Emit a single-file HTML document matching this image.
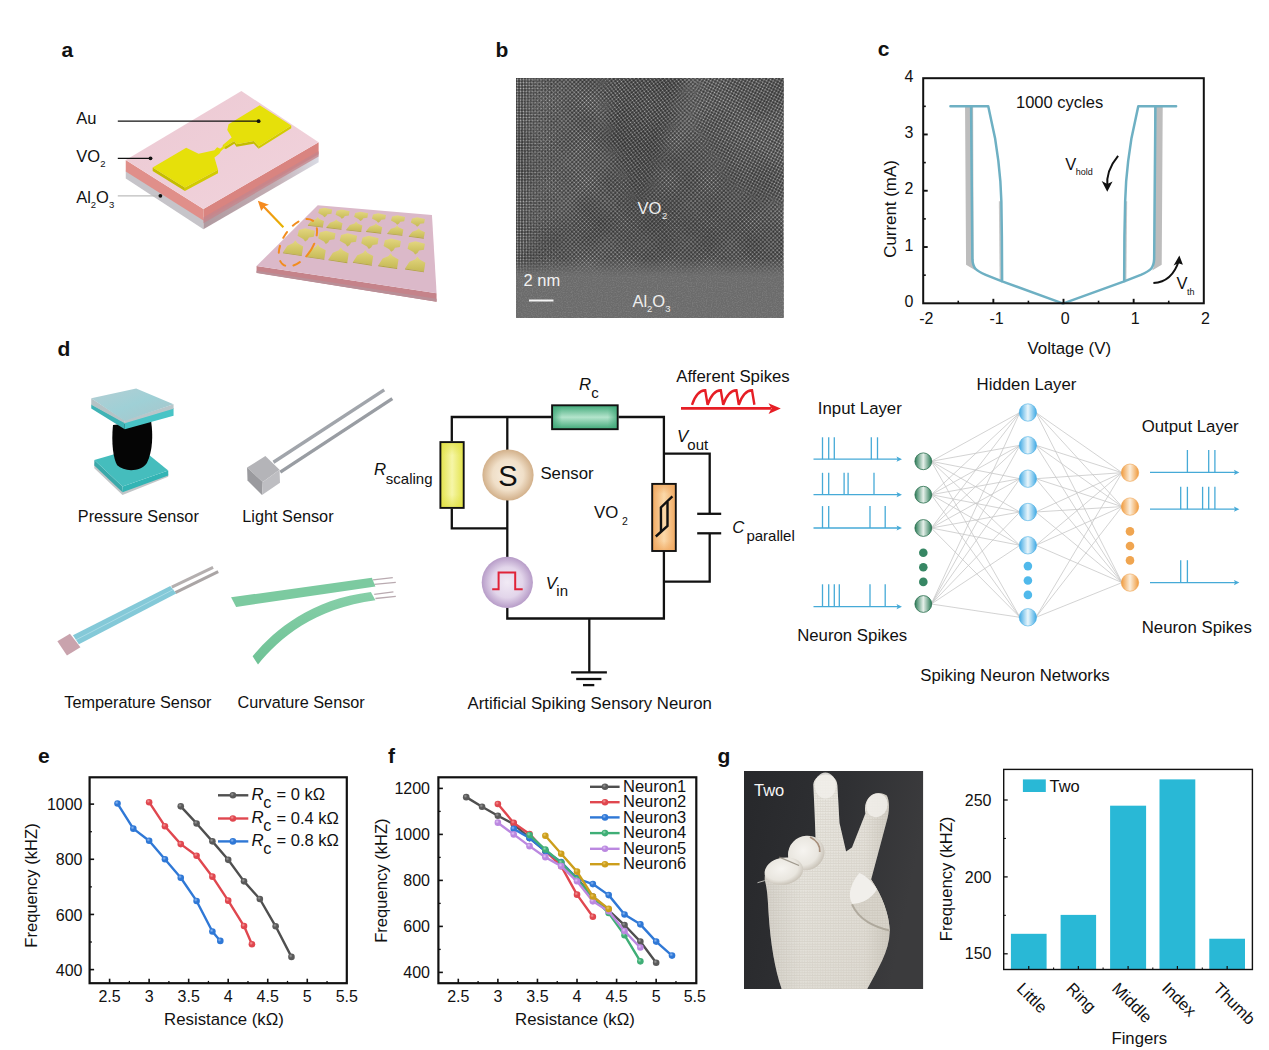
<!DOCTYPE html>
<html><head><meta charset="utf-8"><title>Figure</title>
<style>html,body{margin:0;padding:0;background:#fff;}svg{display:block;font-family:'Liberation Sans', sans-serif;}</style>
</head><body>
<svg width="1269" height="1050" viewBox="0 0 1269 1050">
<defs>
<radialGradient id="ball_k" cx="0.38" cy="0.35" r="0.65"><stop offset="0" stop-color="#9a9a9a"/><stop offset="0.45" stop-color="#5a5a5a"/><stop offset="1" stop-color="#5a5a5a"/></radialGradient>
<radialGradient id="ball_r" cx="0.38" cy="0.35" r="0.65"><stop offset="0" stop-color="#f49a9a"/><stop offset="0.45" stop-color="#e0474f"/><stop offset="1" stop-color="#e0474f"/></radialGradient>
<radialGradient id="ball_b" cx="0.38" cy="0.35" r="0.65"><stop offset="0" stop-color="#8db8f2"/><stop offset="0.45" stop-color="#2f78d6"/><stop offset="1" stop-color="#2f78d6"/></radialGradient>
<radialGradient id="ball_g" cx="0.38" cy="0.35" r="0.65"><stop offset="0" stop-color="#94dcb4"/><stop offset="0.45" stop-color="#3fae76"/><stop offset="1" stop-color="#3fae76"/></radialGradient>
<radialGradient id="ball_p" cx="0.38" cy="0.35" r="0.65"><stop offset="0" stop-color="#e2c6f6"/><stop offset="0.45" stop-color="#bb88e0"/><stop offset="1" stop-color="#bb88e0"/></radialGradient>
<radialGradient id="ball_y" cx="0.38" cy="0.35" r="0.65"><stop offset="0" stop-color="#ecca62"/><stop offset="0.45" stop-color="#cc9e1c"/><stop offset="1" stop-color="#cc9e1c"/></radialGradient>
<linearGradient id="a_pink" x1="0" y1="0" x2="1" y2="1"><stop offset="0" stop-color="#ecc9d3"/><stop offset="1" stop-color="#f1d3dc"/></linearGradient>
<linearGradient id="a_rface" x1="0" y1="0" x2="1" y2="0"><stop offset="0" stop-color="#b09aa0"/><stop offset="0.6" stop-color="#c2adb3"/><stop offset="1" stop-color="#d9dbe4"/></linearGradient>
<linearGradient id="a_arrow" x1="1" y1="1" x2="0" y2="0"><stop offset="0" stop-color="#e6b400"/><stop offset="1" stop-color="#f58a1f"/></linearGradient>
<linearGradient id="a_pad" x1="0" y1="0" x2="0" y2="1"><stop offset="0" stop-color="#e3d680"/><stop offset="1" stop-color="#c6ba55"/></linearGradient>
<pattern id="tem1" width="2.9" height="2.9" patternUnits="userSpaceOnUse" patternTransform="rotate(45)"><rect width="2.9" height="2.9" fill="#353535"/><circle cx="1.45" cy="1.45" r="0.97" fill="#bcbcbc"/></pattern>
<pattern id="tem1b" width="2.9" height="2.9" patternUnits="userSpaceOnUse"><rect width="2.9" height="2.9" fill="#343434"/><circle cx="1.45" cy="1.45" r="0.9" fill="#b8b8b8"/></pattern>
<pattern id="tem2" width="2.0" height="1.9" patternUnits="userSpaceOnUse"><rect width="2.0" height="1.9" fill="#555555"/><circle cx="1" cy="0.95" r="0.62" fill="#9a9a9a"/></pattern>
<linearGradient id="temtrans" x1="0" y1="0" x2="0" y2="1"><stop offset="0" stop-color="#fff" stop-opacity="0"/><stop offset="0.3" stop-color="#fff" stop-opacity="1"/><stop offset="1" stop-color="#fff" stop-opacity="1"/></linearGradient>
<mask id="temmask" maskUnits="userSpaceOnUse" x="516" y="258" width="268" height="60"><rect x="516" y="258" width="268" height="60" fill="url(#temtrans)"/></mask>
<pattern id="tem1c" width="2.9" height="2.9" patternUnits="userSpaceOnUse" patternTransform="rotate(28)"><rect width="2.9" height="2.9" fill="#343434"/><circle cx="1.45" cy="1.45" r="0.92" fill="#b6b6b6"/></pattern>
<pattern id="tem1d" width="3.0" height="2.7" patternUnits="userSpaceOnUse" patternTransform="rotate(-38)"><rect width="3.0" height="2.7" fill="#2e2e2e"/><circle cx="1.5" cy="1.35" r="0.9" fill="#acacac"/></pattern>
<filter id="temblur" x="-0.2" y="-0.2" width="1.4" height="1.4"><feGaussianBlur stdDeviation="7"/></filter>
<mask id="temmaskR" maskUnits="userSpaceOnUse" x="516" y="78" width="268" height="240"><polygon points="700,70 800,70 800,210 735,190 690,120" fill="#fff" filter="url(#temblur)"/></mask>
<mask id="temmaskC" maskUnits="userSpaceOnUse" x="516" y="78" width="268" height="240"><polygon points="600,70 690,70 665,150 640,215 610,150" fill="#fff" filter="url(#temblur)"/></mask>
<filter id="temnoise" x="0" y="0" width="1" height="1"><feTurbulence type="fractalNoise" baseFrequency="0.018" numOctaves="2" seed="7"/><feColorMatrix type="matrix" values="0 0 0 0 0  0 0 0 0 0  0 0 0 0 0  0.32 0 0 0 -0.12"/></filter>
<filter id="temgrain" x="0" y="0" width="1" height="1"><feTurbulence type="fractalNoise" baseFrequency="0.8" numOctaves="1" seed="11"/><feColorMatrix type="matrix" values="0 0 0 0 1  0 0 0 0 1  0 0 0 0 1  0.9 0 0 0 -0.38"/></filter>
<radialGradient id="temdark" cx="0.55" cy="0.6" r="0.55"><stop offset="0" stop-color="#2c2c2c" stop-opacity="0.38"/><stop offset="1" stop-color="#2c2c2c" stop-opacity="0"/></radialGradient>
<linearGradient id="temleft" x1="0" y1="0" x2="1" y2="0"><stop offset="0" stop-color="#fff" stop-opacity="1"/><stop offset="1" stop-color="#fff" stop-opacity="0"/></linearGradient>
<mask id="temmaskL" maskUnits="userSpaceOnUse" x="516" y="78" width="60" height="200"><rect x="516" y="78" width="60" height="200" fill="url(#temleft)"/></mask>
<linearGradient id="d_topplate" x1="0" y1="0" x2="1" y2="1"><stop offset="0" stop-color="#b4ced3"/><stop offset="0.5" stop-color="#9fd0d6"/><stop offset="1" stop-color="#a9c4c9"/></linearGradient>
<linearGradient id="d_cyl" x1="0" y1="0" x2="1" y2="0"><stop offset="0" stop-color="#0a0a0a"/><stop offset="0.5" stop-color="#000"/><stop offset="1" stop-color="#0a0a0a"/></linearGradient>
<linearGradient id="d_rs" x1="0" y1="0" x2="1" y2="0"><stop offset="0" stop-color="#e3e34a"/><stop offset="0.5" stop-color="#f6f6a8"/><stop offset="1" stop-color="#e3e34a"/></linearGradient>
<linearGradient id="d_rs2" x1="0" y1="0" x2="0" y2="1"><stop offset="0" stop-color="#e0e040" stop-opacity="0.7"/><stop offset="0.2" stop-color="#e0e040" stop-opacity="0"/><stop offset="0.8" stop-color="#e0e040" stop-opacity="0"/><stop offset="1" stop-color="#e0e040" stop-opacity="0.7"/></linearGradient>
<linearGradient id="d_rc" x1="0" y1="0" x2="0" y2="1"><stop offset="0" stop-color="#3fa878"/><stop offset="0.5" stop-color="#b4e4cc"/><stop offset="1" stop-color="#3fa878"/></linearGradient>
<linearGradient id="d_rc2" x1="0" y1="0" x2="1" y2="0"><stop offset="0" stop-color="#3fa878" stop-opacity="0.8"/><stop offset="0.15" stop-color="#3fa878" stop-opacity="0"/><stop offset="0.85" stop-color="#3fa878" stop-opacity="0"/><stop offset="1" stop-color="#3fa878" stop-opacity="0.8"/></linearGradient>
<linearGradient id="d_vo" x1="0" y1="0" x2="1" y2="0"><stop offset="0" stop-color="#f0a860"/><stop offset="0.5" stop-color="#fbd9aa"/><stop offset="1" stop-color="#f0a860"/></linearGradient>
<linearGradient id="d_vo2" x1="0" y1="0" x2="0" y2="1"><stop offset="0" stop-color="#f0a860" stop-opacity="0.8"/><stop offset="0.15" stop-color="#f0a860" stop-opacity="0"/><stop offset="0.85" stop-color="#f0a860" stop-opacity="0"/><stop offset="1" stop-color="#f0a860" stop-opacity="0.8"/></linearGradient>
<radialGradient id="d_sens" cx="0.5" cy="0.5" r="0.5"><stop offset="0" stop-color="#f8efe2"/><stop offset="0.6" stop-color="#f0dfc8"/><stop offset="1" stop-color="#d2b08a"/></radialGradient>
<radialGradient id="d_vin" cx="0.5" cy="0.5" r="0.5"><stop offset="0" stop-color="#f1eaf5"/><stop offset="0.6" stop-color="#e2d5ea"/><stop offset="1" stop-color="#b79cc8"/></radialGradient>
<linearGradient id="d_green" x1="0" y1="0" x2="0" y2="1"><stop offset="0" stop-color="#86cfa8"/><stop offset="1" stop-color="#6fc296"/></linearGradient>
<linearGradient id="n_g" x1="0" y1="0" x2="1" y2="0"><stop offset="0" stop-color="#2a7a56"/><stop offset="0.5" stop-color="#e6f0ea"/><stop offset="1" stop-color="#2a7a56"/></linearGradient>
<linearGradient id="n_b" x1="0" y1="0" x2="1" y2="0"><stop offset="0" stop-color="#3fa9e4"/><stop offset="0.5" stop-color="#eaf6fb"/><stop offset="1" stop-color="#3fa9e4"/></linearGradient>
<linearGradient id="n_o" x1="0" y1="0" x2="1" y2="0"><stop offset="0" stop-color="#f09a3c"/><stop offset="0.5" stop-color="#fbeedc"/><stop offset="1" stop-color="#f09a3c"/></linearGradient>
<linearGradient id="gl_bg" x1="0" y1="0" x2="1" y2="0.25"><stop offset="0" stop-color="#27282b"/><stop offset="0.55" stop-color="#2f3033"/><stop offset="1" stop-color="#3b3b3d"/></linearGradient>
<linearGradient id="gl_palm" x1="0" y1="0" x2="1" y2="0"><stop offset="0" stop-color="#d9d6cf"/><stop offset="0.3" stop-color="#ebe9e3"/><stop offset="0.8" stop-color="#e7e4dd"/><stop offset="1" stop-color="#d2cec5"/></linearGradient>
<radialGradient id="gl_kn" cx="0.45" cy="0.4" r="0.6"><stop offset="0" stop-color="#f6f4f0"/><stop offset="0.7" stop-color="#e9e6df"/><stop offset="1" stop-color="#c9c3b8"/></radialGradient>
<pattern id="gl_knit" width="2.6" height="2.6" patternUnits="userSpaceOnUse"><rect width="2.6" height="2.6" fill="none"/><rect x="0" y="0" width="2.6" height="0.9" fill="#a39c8d" opacity="0.2"/><circle cx="1.3" cy="1.9" r="0.5" fill="#aaa394" opacity="0.28"/></pattern>
<linearGradient id="gl_shade" x1="0" y1="0" x2="0" y2="1"><stop offset="0" stop-color="#bdb7aa" stop-opacity="0"/><stop offset="1" stop-color="#bdb7aa" stop-opacity="0.22"/></linearGradient>
<clipPath id="gl_clip"><rect x="744" y="771" width="179.3" height="218"/></clipPath>
</defs>
<rect width="1269" height="1050" fill="#ffffff"/>
<text x="61.50" y="56.90" font-size="21" text-anchor="start" font-weight="bold" font-style="normal" fill="#111" >a</text><text x="495.50" y="56.90" font-size="21" text-anchor="start" font-weight="bold" font-style="normal" fill="#111" >b</text><text x="877.80" y="56.10" font-size="21" text-anchor="start" font-weight="bold" font-style="normal" fill="#111" >c</text><text x="57.50" y="355.60" font-size="21" text-anchor="start" font-weight="bold" font-style="normal" fill="#111" >d</text><text x="38.00" y="762.80" font-size="21" text-anchor="start" font-weight="bold" font-style="normal" fill="#111" >e</text><text x="388.00" y="762.80" font-size="21" text-anchor="start" font-weight="bold" font-style="normal" fill="#111" >f</text><text x="717.50" y="762.80" font-size="21" text-anchor="start" font-weight="bold" font-style="normal" fill="#111" >g</text>
<polygon points="965.05,106.14 973.12,106.14 973.63,267.26 975.64,270.54 966.06,264.74" fill="#bdbdbd" stroke="none" stroke-width="1" />
<polygon points="1154.16,106.14 1162.73,106.14 1161.72,264.74 1152.14,270.54 1153.66,267.26" fill="#bdbdbd" stroke="none" stroke-width="1" />
<polygon points="998.84,201.20 1000.86,201.20 1002.12,281.89 999.60,279.36" fill="#c9c9c9" stroke="none" stroke-width="1" />
<polygon points="1125.16,201.20 1127.18,201.20 1126.42,279.36 1123.90,281.89" fill="#c9c9c9" stroke="none" stroke-width="1" />
<path d="M950.43,106.14 L988.25,106.14 L991.28,120.51 L995.06,138.16 L998.34,160.86 L1000.35,181.03 L1001.36,201.20 L1001.87,236.50 L1002.12,281.38 L1062.63,303.32" fill="none" stroke="#6eb0c3" stroke-width="2.5" stroke-linejoin="round" stroke-linecap="round"/>
<path d="M971.10,106.14 L972.37,259.19 C972.87,268.02 975.64,270.54 985.73,274.83 L1002.12,281.38" fill="none" stroke="#6eb0c3" stroke-width="2.5" stroke-linejoin="round"/>
<path d="M1176.10,106.14 L1138.28,106.14 L1135.25,120.51 L1131.47,138.16 L1128.19,160.86 L1126.17,181.03 L1125.16,201.20 L1124.41,236.50 L1124.16,281.38 L1063.39,303.32" fill="none" stroke="#6eb0c3" stroke-width="2.5" stroke-linejoin="round" stroke-linecap="round"/>
<path d="M1155.42,106.14 L1154.16,259.19 C1153.66,268.02 1150.88,270.54 1140.80,274.83 L1124.16,281.38" fill="none" stroke="#6eb0c3" stroke-width="2.5" stroke-linejoin="round"/>
<rect x="923.2" y="78.2" width="280.60" height="225.10" fill="none" stroke="#111" stroke-width="2.0"/>
<line x1="993.35" y1="303.30" x2="993.35" y2="298.80" stroke="#111" stroke-width="1.9" />
<line x1="1063.50" y1="303.30" x2="1063.50" y2="298.80" stroke="#111" stroke-width="1.9" />
<line x1="1133.65" y1="303.30" x2="1133.65" y2="298.80" stroke="#111" stroke-width="1.9" />
<line x1="958.27" y1="303.30" x2="958.27" y2="300.70" stroke="#111" stroke-width="1.6" />
<line x1="1028.42" y1="303.30" x2="1028.42" y2="300.70" stroke="#111" stroke-width="1.6" />
<line x1="1098.58" y1="303.30" x2="1098.58" y2="300.70" stroke="#111" stroke-width="1.6" />
<line x1="1168.72" y1="303.30" x2="1168.72" y2="300.70" stroke="#111" stroke-width="1.6" />
<line x1="923.20" y1="247.02" x2="927.70" y2="247.02" stroke="#111" stroke-width="1.9" />
<line x1="923.20" y1="190.74" x2="927.70" y2="190.74" stroke="#111" stroke-width="1.9" />
<line x1="923.20" y1="134.46" x2="927.70" y2="134.46" stroke="#111" stroke-width="1.9" />
<line x1="923.20" y1="275.16" x2="925.80" y2="275.16" stroke="#111" stroke-width="1.6" />
<line x1="923.20" y1="218.88" x2="925.80" y2="218.88" stroke="#111" stroke-width="1.6" />
<line x1="923.20" y1="162.60" x2="925.80" y2="162.60" stroke="#111" stroke-width="1.6" />
<line x1="923.20" y1="106.32" x2="925.80" y2="106.32" stroke="#111" stroke-width="1.6" />
<text x="913.50" y="306.90" font-size="16" text-anchor="end" font-weight="normal" font-style="normal" fill="#111" >0</text>
<text x="913.50" y="250.62" font-size="16" text-anchor="end" font-weight="normal" font-style="normal" fill="#111" >1</text>
<text x="913.50" y="194.34" font-size="16" text-anchor="end" font-weight="normal" font-style="normal" fill="#111" >2</text>
<text x="913.50" y="138.06" font-size="16" text-anchor="end" font-weight="normal" font-style="normal" fill="#111" >3</text>
<text x="913.50" y="81.78" font-size="16" text-anchor="end" font-weight="normal" font-style="normal" fill="#111" >4</text>
<text x="926.40" y="324.20" font-size="16" text-anchor="middle" font-weight="normal" font-style="normal" fill="#111" >-2</text>
<text x="996.55" y="324.20" font-size="16" text-anchor="middle" font-weight="normal" font-style="normal" fill="#111" >-1</text>
<text x="1065.10" y="324.20" font-size="16" text-anchor="middle" font-weight="normal" font-style="normal" fill="#111" >0</text>
<text x="1135.25" y="324.20" font-size="16" text-anchor="middle" font-weight="normal" font-style="normal" fill="#111" >1</text>
<text x="1205.40" y="324.20" font-size="16" text-anchor="middle" font-weight="normal" font-style="normal" fill="#111" >2</text>
<text x="1069.30" y="354.20" font-size="16.9" text-anchor="middle" font-weight="normal" font-style="normal" fill="#111" >Voltage (V)</text>
<text transform="translate(895.5,209) rotate(-90)" font-size="16.9" text-anchor="middle" fill="#111">Current (mA)</text>
<text x="1016.00" y="108.00" font-size="16.5" text-anchor="start" font-weight="normal" font-style="normal" fill="#111" >1000 cycles</text>
<text x="1065.15" y="170.19" font-size="16.5" text-anchor="start" font-weight="normal" font-style="normal" fill="#111" >V</text><text x="1075.65" y="175.19" font-size="9" text-anchor="start" font-weight="normal" font-style="normal" fill="#111" >hold</text>
<text x="1176.60" y="289.45" font-size="16.5" text-anchor="start" font-weight="normal" font-style="normal" fill="#111" >V</text><text x="1187.10" y="295.45" font-size="9" text-anchor="start" font-weight="normal" font-style="normal" fill="#111" >th</text>
<path d="M1118.1,155.8 Q1105.5,170.9 1107.3,187.3" fill="none" stroke="#111" stroke-width="2"/>
<polygon points="1101.71,181.03 1107.26,184.05 1112.56,181.53 1107.26,191.87" fill="#111" stroke="none" stroke-width="1" />
<path d="M1153.4,283.1 Q1172.3,281.9 1178.9,260.5" fill="none" stroke="#111" stroke-width="2"/>
<polygon points="1173.58,265.50 1178.37,263.23 1182.90,264.74 1179.37,255.41" fill="#111" stroke="none" stroke-width="1" />
<polyline points="180.76,806.33 196.58,823.43 212.39,841.35 228.20,859.83 244.02,881.34 259.83,899.00 275.65,926.30 291.46,956.91" fill="none" stroke="#4f4f4f" stroke-width="2.4" stroke-linejoin="round"/><circle cx="180.76" cy="806.33" r="3.3" fill="url(#ball_k)"/><circle cx="196.58" cy="823.43" r="3.3" fill="url(#ball_k)"/><circle cx="212.39" cy="841.35" r="3.3" fill="url(#ball_k)"/><circle cx="228.20" cy="859.83" r="3.3" fill="url(#ball_k)"/><circle cx="244.02" cy="881.34" r="3.3" fill="url(#ball_k)"/><circle cx="259.83" cy="899.00" r="3.3" fill="url(#ball_k)"/><circle cx="275.65" cy="926.30" r="3.3" fill="url(#ball_k)"/><circle cx="291.46" cy="956.91" r="3.3" fill="url(#ball_k)"/>
<polyline points="149.13,802.19 164.95,826.18 180.76,844.11 196.58,855.69 212.39,876.66 228.20,900.65 244.02,926.02 251.93,944.23" fill="none" stroke="#e0474f" stroke-width="2.4" stroke-linejoin="round"/><circle cx="149.13" cy="802.19" r="3.3" fill="url(#ball_r)"/><circle cx="164.95" cy="826.18" r="3.3" fill="url(#ball_r)"/><circle cx="180.76" cy="844.11" r="3.3" fill="url(#ball_r)"/><circle cx="196.58" cy="855.69" r="3.3" fill="url(#ball_r)"/><circle cx="212.39" cy="876.66" r="3.3" fill="url(#ball_r)"/><circle cx="228.20" cy="900.65" r="3.3" fill="url(#ball_r)"/><circle cx="244.02" cy="926.02" r="3.3" fill="url(#ball_r)"/><circle cx="251.93" cy="944.23" r="3.3" fill="url(#ball_r)"/>
<polyline points="117.51,803.57 133.32,828.67 149.13,840.80 164.95,859.28 180.76,877.76 196.58,900.93 212.39,931.54 220.30,940.92" fill="none" stroke="#2f78d6" stroke-width="2.4" stroke-linejoin="round"/><circle cx="117.51" cy="803.57" r="3.3" fill="url(#ball_b)"/><circle cx="133.32" cy="828.67" r="3.3" fill="url(#ball_b)"/><circle cx="149.13" cy="840.80" r="3.3" fill="url(#ball_b)"/><circle cx="164.95" cy="859.28" r="3.3" fill="url(#ball_b)"/><circle cx="180.76" cy="877.76" r="3.3" fill="url(#ball_b)"/><circle cx="196.58" cy="900.93" r="3.3" fill="url(#ball_b)"/><circle cx="212.39" cy="931.54" r="3.3" fill="url(#ball_b)"/><circle cx="220.30" cy="940.92" r="3.3" fill="url(#ball_b)"/>
<rect x="89.6" y="777.3" width="257.20" height="205.90" fill="none" stroke="#111" stroke-width="2.2"/>
<line x1="109.60" y1="983.20" x2="109.60" y2="978.70" stroke="#111" stroke-width="1.6" />
<text x="109.60" y="1001.50" font-size="16" text-anchor="middle" font-weight="normal" font-style="normal" fill="#111" >2.5</text>
<line x1="149.13" y1="983.20" x2="149.13" y2="978.70" stroke="#111" stroke-width="1.6" />
<text x="149.13" y="1001.50" font-size="16" text-anchor="middle" font-weight="normal" font-style="normal" fill="#111" >3</text>
<line x1="188.67" y1="983.20" x2="188.67" y2="978.70" stroke="#111" stroke-width="1.6" />
<text x="188.67" y="1001.50" font-size="16" text-anchor="middle" font-weight="normal" font-style="normal" fill="#111" >3.5</text>
<line x1="228.20" y1="983.20" x2="228.20" y2="978.70" stroke="#111" stroke-width="1.6" />
<text x="228.20" y="1001.50" font-size="16" text-anchor="middle" font-weight="normal" font-style="normal" fill="#111" >4</text>
<line x1="267.74" y1="983.20" x2="267.74" y2="978.70" stroke="#111" stroke-width="1.6" />
<text x="267.74" y="1001.50" font-size="16" text-anchor="middle" font-weight="normal" font-style="normal" fill="#111" >4.5</text>
<line x1="307.27" y1="983.20" x2="307.27" y2="978.70" stroke="#111" stroke-width="1.6" />
<text x="307.27" y="1001.50" font-size="16" text-anchor="middle" font-weight="normal" font-style="normal" fill="#111" >5</text>
<text x="346.81" y="1001.50" font-size="16" text-anchor="middle" font-weight="normal" font-style="normal" fill="#111" >5.5</text>
<line x1="129.37" y1="983.20" x2="129.37" y2="980.90" stroke="#111" stroke-width="1.3" />
<line x1="168.90" y1="983.20" x2="168.90" y2="980.90" stroke="#111" stroke-width="1.3" />
<line x1="208.44" y1="983.20" x2="208.44" y2="980.90" stroke="#111" stroke-width="1.3" />
<line x1="247.97" y1="983.20" x2="247.97" y2="980.90" stroke="#111" stroke-width="1.3" />
<line x1="287.51" y1="983.20" x2="287.51" y2="980.90" stroke="#111" stroke-width="1.3" />
<line x1="327.04" y1="983.20" x2="327.04" y2="980.90" stroke="#111" stroke-width="1.3" />
<line x1="89.60" y1="969.60" x2="94.10" y2="969.60" stroke="#111" stroke-width="1.6" />
<text x="82.50" y="975.70" font-size="16" text-anchor="end" font-weight="normal" font-style="normal" fill="#111" >400</text>
<line x1="89.60" y1="914.44" x2="94.10" y2="914.44" stroke="#111" stroke-width="1.6" />
<text x="82.50" y="920.54" font-size="16" text-anchor="end" font-weight="normal" font-style="normal" fill="#111" >600</text>
<line x1="89.60" y1="859.28" x2="94.10" y2="859.28" stroke="#111" stroke-width="1.6" />
<text x="82.50" y="865.38" font-size="16" text-anchor="end" font-weight="normal" font-style="normal" fill="#111" >800</text>
<line x1="89.60" y1="804.12" x2="94.10" y2="804.12" stroke="#111" stroke-width="1.6" />
<text x="82.50" y="810.22" font-size="16" text-anchor="end" font-weight="normal" font-style="normal" fill="#111" >1000</text>
<line x1="89.60" y1="942.02" x2="91.90" y2="942.02" stroke="#111" stroke-width="1.3" />
<line x1="89.60" y1="886.86" x2="91.90" y2="886.86" stroke="#111" stroke-width="1.3" />
<line x1="89.60" y1="831.70" x2="91.90" y2="831.70" stroke="#111" stroke-width="1.3" />
<text x="224.00" y="1024.90" font-size="16.8" text-anchor="middle" font-weight="normal" font-style="normal" fill="#111" >Resistance (kΩ)</text>
<text transform="translate(37.3,885.5) rotate(-90)" font-size="16.6" text-anchor="middle" fill="#111">Frequency (kHZ)</text>
<line x1="218.00" y1="795.30" x2="248.30" y2="795.30" stroke="#4f4f4f" stroke-width="2.4" />
<circle cx="232.9" cy="795.3" r="3.3" fill="url(#ball_k)"/>
<text x="251.50" y="799.90" font-size="16.8" text-anchor="start" font-weight="normal" font-style="italic" fill="#111" >R</text>
<text x="263.30" y="807.70" font-size="16.2" text-anchor="start" font-weight="normal" font-style="normal" fill="#111" >c</text>
<text x="276.50" y="800.30" font-size="16.5" text-anchor="start" font-weight="normal" font-style="normal" fill="#111" >= 0 kΩ</text>
<line x1="218.00" y1="818.50" x2="248.30" y2="818.50" stroke="#e0474f" stroke-width="2.4" />
<circle cx="232.9" cy="818.5" r="3.3" fill="url(#ball_r)"/>
<text x="251.50" y="823.10" font-size="16.8" text-anchor="start" font-weight="normal" font-style="italic" fill="#111" >R</text>
<text x="263.30" y="830.90" font-size="16.2" text-anchor="start" font-weight="normal" font-style="normal" fill="#111" >c</text>
<text x="276.50" y="823.50" font-size="16.5" text-anchor="start" font-weight="normal" font-style="normal" fill="#111" >= 0.4 kΩ</text>
<line x1="218.00" y1="841.40" x2="248.30" y2="841.40" stroke="#2f78d6" stroke-width="2.4" />
<circle cx="232.9" cy="841.4" r="3.3" fill="url(#ball_b)"/>
<text x="251.50" y="846.00" font-size="16.8" text-anchor="start" font-weight="normal" font-style="italic" fill="#111" >R</text>
<text x="263.30" y="853.80" font-size="16.2" text-anchor="start" font-weight="normal" font-style="normal" fill="#111" >c</text>
<text x="276.50" y="846.40" font-size="16.5" text-anchor="start" font-weight="normal" font-style="normal" fill="#111" >= 0.8 kΩ</text>
<polyline points="466.22,797.14 482.05,806.80 497.88,815.77 513.71,824.05 529.54,838.08 545.37,850.96 561.20,862.69 577.02,878.56 592.86,896.50 608.69,910.30 624.51,925.02 640.35,941.58 656.17,962.74" fill="none" stroke="#4f4f4f" stroke-width="2.4" stroke-linejoin="round"/><circle cx="466.22" cy="797.14" r="3.3" fill="url(#ball_k)"/><circle cx="482.05" cy="806.80" r="3.3" fill="url(#ball_k)"/><circle cx="497.88" cy="815.77" r="3.3" fill="url(#ball_k)"/><circle cx="513.71" cy="824.05" r="3.3" fill="url(#ball_k)"/><circle cx="529.54" cy="838.08" r="3.3" fill="url(#ball_k)"/><circle cx="545.37" cy="850.96" r="3.3" fill="url(#ball_k)"/><circle cx="561.20" cy="862.69" r="3.3" fill="url(#ball_k)"/><circle cx="577.02" cy="878.56" r="3.3" fill="url(#ball_k)"/><circle cx="592.86" cy="896.50" r="3.3" fill="url(#ball_k)"/><circle cx="608.69" cy="910.30" r="3.3" fill="url(#ball_k)"/><circle cx="624.51" cy="925.02" r="3.3" fill="url(#ball_k)"/><circle cx="640.35" cy="941.58" r="3.3" fill="url(#ball_k)"/><circle cx="656.17" cy="962.74" r="3.3" fill="url(#ball_k)"/>
<polyline points="497.88,804.04 513.71,822.90 529.53,833.94 545.37,850.96 561.20,866.14 577.02,894.66 592.86,916.74" fill="none" stroke="#e0474f" stroke-width="2.4" stroke-linejoin="round"/><circle cx="497.88" cy="804.04" r="3.3" fill="url(#ball_r)"/><circle cx="513.71" cy="822.90" r="3.3" fill="url(#ball_r)"/><circle cx="529.53" cy="833.94" r="3.3" fill="url(#ball_r)"/><circle cx="545.37" cy="850.96" r="3.3" fill="url(#ball_r)"/><circle cx="561.20" cy="866.14" r="3.3" fill="url(#ball_r)"/><circle cx="577.02" cy="894.66" r="3.3" fill="url(#ball_r)"/><circle cx="592.86" cy="916.74" r="3.3" fill="url(#ball_r)"/>
<polyline points="513.71,828.88 529.54,838.08 545.37,850.96 561.20,862.00 577.02,878.56 592.86,884.08 608.69,895.12 624.52,914.44 640.35,924.33 656.17,941.58 672.01,955.61" fill="none" stroke="#2f78d6" stroke-width="2.4" stroke-linejoin="round"/><circle cx="513.71" cy="828.88" r="3.3" fill="url(#ball_b)"/><circle cx="529.54" cy="838.08" r="3.3" fill="url(#ball_b)"/><circle cx="545.37" cy="850.96" r="3.3" fill="url(#ball_b)"/><circle cx="561.20" cy="862.00" r="3.3" fill="url(#ball_b)"/><circle cx="577.02" cy="878.56" r="3.3" fill="url(#ball_b)"/><circle cx="592.86" cy="884.08" r="3.3" fill="url(#ball_b)"/><circle cx="608.69" cy="895.12" r="3.3" fill="url(#ball_b)"/><circle cx="624.52" cy="914.44" r="3.3" fill="url(#ball_b)"/><circle cx="640.35" cy="924.33" r="3.3" fill="url(#ball_b)"/><circle cx="656.17" cy="941.58" r="3.3" fill="url(#ball_b)"/><circle cx="672.01" cy="955.61" r="3.3" fill="url(#ball_b)"/>
<polyline points="529.53,835.09 545.37,849.58 561.20,862.69 577.02,879.25 592.86,897.42 608.69,913.06 624.51,935.14 640.35,961.36" fill="none" stroke="#3fae76" stroke-width="2.4" stroke-linejoin="round"/><circle cx="529.53" cy="835.09" r="3.3" fill="url(#ball_g)"/><circle cx="545.37" cy="849.58" r="3.3" fill="url(#ball_g)"/><circle cx="561.20" cy="862.69" r="3.3" fill="url(#ball_g)"/><circle cx="577.02" cy="879.25" r="3.3" fill="url(#ball_g)"/><circle cx="592.86" cy="897.42" r="3.3" fill="url(#ball_g)"/><circle cx="608.69" cy="913.06" r="3.3" fill="url(#ball_g)"/><circle cx="624.51" cy="935.14" r="3.3" fill="url(#ball_g)"/><circle cx="640.35" cy="961.36" r="3.3" fill="url(#ball_g)"/>
<polyline points="497.88,822.67 513.71,834.40 529.53,846.13 545.37,857.17 561.20,866.14 577.02,881.32 592.86,901.33 608.69,911.22 624.51,931.00 640.35,947.56" fill="none" stroke="#bb88e0" stroke-width="2.4" stroke-linejoin="round"/><circle cx="497.88" cy="822.67" r="3.3" fill="url(#ball_p)"/><circle cx="513.71" cy="834.40" r="3.3" fill="url(#ball_p)"/><circle cx="529.53" cy="846.13" r="3.3" fill="url(#ball_p)"/><circle cx="545.37" cy="857.17" r="3.3" fill="url(#ball_p)"/><circle cx="561.20" cy="866.14" r="3.3" fill="url(#ball_p)"/><circle cx="577.02" cy="881.32" r="3.3" fill="url(#ball_p)"/><circle cx="592.86" cy="901.33" r="3.3" fill="url(#ball_p)"/><circle cx="608.69" cy="911.22" r="3.3" fill="url(#ball_p)"/><circle cx="624.51" cy="931.00" r="3.3" fill="url(#ball_p)"/><circle cx="640.35" cy="947.56" r="3.3" fill="url(#ball_p)"/>
<polyline points="545.37,835.78 561.20,853.72 577.02,871.66 592.86,896.50 608.69,908.92" fill="none" stroke="#cc9e1c" stroke-width="2.4" stroke-linejoin="round"/><circle cx="545.37" cy="835.78" r="3.3" fill="url(#ball_y)"/><circle cx="561.20" cy="853.72" r="3.3" fill="url(#ball_y)"/><circle cx="577.02" cy="871.66" r="3.3" fill="url(#ball_y)"/><circle cx="592.86" cy="896.50" r="3.3" fill="url(#ball_y)"/><circle cx="608.69" cy="908.92" r="3.3" fill="url(#ball_y)"/>
<rect x="438.4" y="777.3" width="257.90" height="205.90" fill="none" stroke="#111" stroke-width="2.2"/>
<line x1="458.30" y1="983.20" x2="458.30" y2="978.70" stroke="#111" stroke-width="1.6" />
<text x="458.30" y="1001.50" font-size="16" text-anchor="middle" font-weight="normal" font-style="normal" fill="#111" >2.5</text>
<line x1="497.88" y1="983.20" x2="497.88" y2="978.70" stroke="#111" stroke-width="1.6" />
<text x="497.88" y="1001.50" font-size="16" text-anchor="middle" font-weight="normal" font-style="normal" fill="#111" >3</text>
<line x1="537.45" y1="983.20" x2="537.45" y2="978.70" stroke="#111" stroke-width="1.6" />
<text x="537.45" y="1001.50" font-size="16" text-anchor="middle" font-weight="normal" font-style="normal" fill="#111" >3.5</text>
<line x1="577.02" y1="983.20" x2="577.02" y2="978.70" stroke="#111" stroke-width="1.6" />
<text x="577.02" y="1001.50" font-size="16" text-anchor="middle" font-weight="normal" font-style="normal" fill="#111" >4</text>
<line x1="616.60" y1="983.20" x2="616.60" y2="978.70" stroke="#111" stroke-width="1.6" />
<text x="616.60" y="1001.50" font-size="16" text-anchor="middle" font-weight="normal" font-style="normal" fill="#111" >4.5</text>
<line x1="656.17" y1="983.20" x2="656.17" y2="978.70" stroke="#111" stroke-width="1.6" />
<text x="656.17" y="1001.50" font-size="16" text-anchor="middle" font-weight="normal" font-style="normal" fill="#111" >5</text>
<text x="694.75" y="1001.50" font-size="16" text-anchor="middle" font-weight="normal" font-style="normal" fill="#111" >5.5</text>
<line x1="478.09" y1="983.20" x2="478.09" y2="980.90" stroke="#111" stroke-width="1.3" />
<line x1="517.66" y1="983.20" x2="517.66" y2="980.90" stroke="#111" stroke-width="1.3" />
<line x1="557.24" y1="983.20" x2="557.24" y2="980.90" stroke="#111" stroke-width="1.3" />
<line x1="596.81" y1="983.20" x2="596.81" y2="980.90" stroke="#111" stroke-width="1.3" />
<line x1="636.39" y1="983.20" x2="636.39" y2="980.90" stroke="#111" stroke-width="1.3" />
<line x1="675.96" y1="983.20" x2="675.96" y2="980.90" stroke="#111" stroke-width="1.3" />
<line x1="438.40" y1="972.40" x2="442.90" y2="972.40" stroke="#111" stroke-width="1.6" />
<text x="430.00" y="978.00" font-size="16" text-anchor="end" font-weight="normal" font-style="normal" fill="#111" >400</text>
<line x1="438.40" y1="926.40" x2="442.90" y2="926.40" stroke="#111" stroke-width="1.6" />
<text x="430.00" y="932.00" font-size="16" text-anchor="end" font-weight="normal" font-style="normal" fill="#111" >600</text>
<line x1="438.40" y1="880.40" x2="442.90" y2="880.40" stroke="#111" stroke-width="1.6" />
<text x="430.00" y="886.00" font-size="16" text-anchor="end" font-weight="normal" font-style="normal" fill="#111" >800</text>
<line x1="438.40" y1="834.40" x2="442.90" y2="834.40" stroke="#111" stroke-width="1.6" />
<text x="430.00" y="840.00" font-size="16" text-anchor="end" font-weight="normal" font-style="normal" fill="#111" >1000</text>
<line x1="438.40" y1="788.40" x2="442.90" y2="788.40" stroke="#111" stroke-width="1.6" />
<text x="430.00" y="794.00" font-size="16" text-anchor="end" font-weight="normal" font-style="normal" fill="#111" >1200</text>
<line x1="438.40" y1="949.40" x2="440.70" y2="949.40" stroke="#111" stroke-width="1.3" />
<line x1="438.40" y1="903.40" x2="440.70" y2="903.40" stroke="#111" stroke-width="1.3" />
<line x1="438.40" y1="857.40" x2="440.70" y2="857.40" stroke="#111" stroke-width="1.3" />
<line x1="438.40" y1="811.40" x2="440.70" y2="811.40" stroke="#111" stroke-width="1.3" />
<text x="575.00" y="1024.90" font-size="16.8" text-anchor="middle" font-weight="normal" font-style="normal" fill="#111" >Resistance (kΩ)</text>
<text transform="translate(387,880.6) rotate(-90)" font-size="16.6" text-anchor="middle" fill="#111">Frequency (kHZ)</text>
<line x1="590.00" y1="786.80" x2="619.60" y2="786.80" stroke="#4f4f4f" stroke-width="2.4" />
<circle cx="605" cy="786.8" r="3.3" fill="url(#ball_k)"/>
<text x="623.00" y="792.00" font-size="16.5" text-anchor="start" font-weight="normal" font-style="normal" fill="#111" >Neuron1</text>
<line x1="590.00" y1="802.20" x2="619.60" y2="802.20" stroke="#e0474f" stroke-width="2.4" />
<circle cx="605" cy="802.2" r="3.3" fill="url(#ball_r)"/>
<text x="623.00" y="807.40" font-size="16.5" text-anchor="start" font-weight="normal" font-style="normal" fill="#111" >Neuron2</text>
<line x1="590.00" y1="817.40" x2="619.60" y2="817.40" stroke="#2f78d6" stroke-width="2.4" />
<circle cx="605" cy="817.4" r="3.3" fill="url(#ball_b)"/>
<text x="623.00" y="822.60" font-size="16.5" text-anchor="start" font-weight="normal" font-style="normal" fill="#111" >Neuron3</text>
<line x1="590.00" y1="833.10" x2="619.60" y2="833.10" stroke="#3fae76" stroke-width="2.4" />
<circle cx="605" cy="833.1" r="3.3" fill="url(#ball_g)"/>
<text x="623.00" y="838.30" font-size="16.5" text-anchor="start" font-weight="normal" font-style="normal" fill="#111" >Neuron4</text>
<line x1="590.00" y1="848.80" x2="619.60" y2="848.80" stroke="#bb88e0" stroke-width="2.4" />
<circle cx="605" cy="848.8" r="3.3" fill="url(#ball_p)"/>
<text x="623.00" y="854.00" font-size="16.5" text-anchor="start" font-weight="normal" font-style="normal" fill="#111" >Neuron5</text>
<line x1="590.00" y1="864.20" x2="619.60" y2="864.20" stroke="#cc9e1c" stroke-width="2.4" />
<circle cx="605" cy="864.2" r="3.3" fill="url(#ball_y)"/>
<text x="623.00" y="869.40" font-size="16.5" text-anchor="start" font-weight="normal" font-style="normal" fill="#111" >Neuron6</text>
<rect x="1010.90" y="933.81" width="35.70" height="35.69" fill="#29b8d6"/>
<line x1="1028.75" y1="969.50" x2="1028.75" y2="966.00" stroke="#111" stroke-width="1.2" />
<text transform="translate(1015.75,989.50) rotate(45)" font-size="16.5" fill="#111">Little</text>
<rect x="1060.60" y="914.89" width="35.50" height="54.61" fill="#29b8d6"/>
<line x1="1078.35" y1="969.50" x2="1078.35" y2="966.00" stroke="#111" stroke-width="1.2" />
<text transform="translate(1065.35,989.50) rotate(45)" font-size="16.5" fill="#111">Ring</text>
<rect x="1110.10" y="805.69" width="36.00" height="163.81" fill="#29b8d6"/>
<line x1="1128.10" y1="969.50" x2="1128.10" y2="966.00" stroke="#111" stroke-width="1.2" />
<text transform="translate(1110.90,989.50) rotate(45)" font-size="16.5" fill="#111">Middle</text>
<rect x="1159.50" y="779.39" width="35.80" height="190.11" fill="#29b8d6"/>
<line x1="1177.40" y1="969.50" x2="1177.40" y2="966.00" stroke="#111" stroke-width="1.2" />
<text transform="translate(1160.90,989.10) rotate(45)" font-size="16.5" fill="#111">Index</text>
<rect x="1209.30" y="938.73" width="35.70" height="30.77" fill="#29b8d6"/>
<line x1="1227.15" y1="969.50" x2="1227.15" y2="966.00" stroke="#111" stroke-width="1.2" />
<text transform="translate(1212.15,989.50) rotate(45)" font-size="16.5" fill="#111">Thumb</text>
<line x1="1053.60" y1="969.50" x2="1053.60" y2="967.50" stroke="#111" stroke-width="1.1" />
<line x1="1103.10" y1="969.50" x2="1103.10" y2="967.50" stroke="#111" stroke-width="1.1" />
<line x1="1152.80" y1="969.50" x2="1152.80" y2="967.50" stroke="#111" stroke-width="1.1" />
<line x1="1202.30" y1="969.50" x2="1202.30" y2="967.50" stroke="#111" stroke-width="1.1" />
<rect x="1003.7" y="769.4" width="248.70" height="200.10" fill="none" stroke="#111" stroke-width="1.4"/>
<line x1="1003.70" y1="953.80" x2="1007.70" y2="953.80" stroke="#111" stroke-width="1.3" />
<text x="991.50" y="959.40" font-size="16" text-anchor="end" font-weight="normal" font-style="normal" fill="#111" >150</text>
<line x1="1003.70" y1="876.90" x2="1007.70" y2="876.90" stroke="#111" stroke-width="1.3" />
<text x="991.50" y="882.50" font-size="16" text-anchor="end" font-weight="normal" font-style="normal" fill="#111" >200</text>
<line x1="1003.70" y1="800.00" x2="1007.70" y2="800.00" stroke="#111" stroke-width="1.3" />
<text x="991.50" y="805.60" font-size="16" text-anchor="end" font-weight="normal" font-style="normal" fill="#111" >250</text>
<line x1="1003.70" y1="915.35" x2="1005.90" y2="915.35" stroke="#111" stroke-width="1.1" />
<line x1="1003.70" y1="838.45" x2="1005.90" y2="838.45" stroke="#111" stroke-width="1.1" />
<rect x="1022.9" y="779.4" width="22.9" height="12.6" fill="#29b8d6"/>
<text x="1049.50" y="791.60" font-size="16.5" text-anchor="start" font-weight="normal" font-style="normal" fill="#111" >Two</text>
<text x="1139.30" y="1043.80" font-size="16.7" text-anchor="middle" font-weight="normal" font-style="normal" fill="#111" >Fingers</text>
<text transform="translate(952.3,878.9) rotate(-90)" font-size="16.6" text-anchor="middle" fill="#111">Frequency (kHZ)</text>
<polygon points="125.75,170.40 203.42,219.60 203.42,229.31 125.75,178.56" fill="#c6c4c9" stroke="none" stroke-width="1" />
<polygon points="203.42,219.60 318.61,153.41 318.61,162.23 203.42,229.31" fill="url(#a_rface)" stroke="none" stroke-width="1" />
<polygon points="125.75,160.03 203.42,209.01 203.42,220.49 125.75,171.50" fill="#e08f8a" stroke="none" stroke-width="1" />
<polygon points="203.42,209.01 318.61,142.37 318.61,154.29 203.42,220.49" fill="#d98480" stroke="none" stroke-width="1" />
<polygon points="203.42,217.40 318.61,151.20 318.61,156.50 203.42,223.13" fill="#c4868c" stroke="none" stroke-width="1" opacity="0.8"/>
<polygon points="241.38,90.96 318.61,142.37 203.42,209.01 125.75,160.03" fill="url(#a_pink)" stroke="none" stroke-width="1" />
<polygon points="152.67,167.53 184.89,187.39 184.89,190.92 152.67,171.06" fill="#c4bd00" stroke="none" stroke-width="1" />
<polygon points="184.89,187.39 217.99,169.74 217.99,173.27 184.89,190.92" fill="#d2cb00" stroke="none" stroke-width="1" />
<polygon points="152.67,167.53 186.21,147.67 198.57,153.85 214.46,150.32 217.11,147.23 221.96,149.44 219.31,153.85 214.46,157.60 217.99,169.74 184.89,187.39" fill="#e6e00a" stroke="none" stroke-width="1" />
<polygon points="258.59,146.13 291.24,125.60 291.24,128.25 258.59,148.77" fill="#d2cb00" stroke="none" stroke-width="1" />
<polygon points="222.84,145.02 225.93,146.35 234.32,141.05 236.52,144.14 253.73,141.05 258.59,146.13 258.59,148.77 253.73,143.70 236.52,146.79 234.32,143.70 225.93,148.99 222.84,147.67" fill="#c4bd00" stroke="none" stroke-width="1" />
<polygon points="259.69,105.30 291.24,125.60 258.59,146.13 253.73,141.05 236.52,144.14 234.32,141.05 225.93,146.35 222.84,145.02 231.67,137.52 227.26,130.02 228.58,124.28" fill="#e6e00a" stroke="none" stroke-width="1" />
<line x1="220.64" y1="149.88" x2="225.05" y2="145.90" stroke="#e6e00a" stroke-width="2.2" />
<line x1="117.80" y1="121.20" x2="258.60" y2="121.20" stroke="#111" stroke-width="1.2" />
<circle cx="258.6" cy="121.2" r="1.9" fill="#111"/>
<line x1="117.80" y1="158.30" x2="150.50" y2="158.30" stroke="#111" stroke-width="1.2" />
<circle cx="150.5" cy="158.3" r="1.9" fill="#111"/>
<line x1="117.80" y1="195.80" x2="160.40" y2="195.80" stroke="#bdbdbd" stroke-width="1.2" />
<circle cx="160.4" cy="195.8" r="1.9" fill="#111"/>
<text x="76.30" y="124.20" font-size="16.5" text-anchor="start" font-weight="normal" font-style="normal" fill="#111" >Au</text>
<text x="76.30" y="161.80" font-size="16.5" text-anchor="start" font-weight="normal" font-style="normal" fill="#111" >VO</text><text x="100.30" y="166.50" font-size="9.5" text-anchor="start" font-weight="normal" font-style="normal" fill="#111" >2</text>
<text x="76.30" y="202.50" font-size="16.5" text-anchor="start" font-weight="normal" font-style="normal" fill="#111" >Al</text><text x="90.80" y="207.50" font-size="9.5" text-anchor="start" font-weight="normal" font-style="normal" fill="#111" >2</text><text x="96.00" y="202.50" font-size="16.5" text-anchor="start" font-weight="normal" font-style="normal" fill="#111" >O</text><text x="109.00" y="207.50" font-size="9.5" text-anchor="start" font-weight="normal" font-style="normal" fill="#111" >3</text>
<polygon points="256.55,266.05 436.59,293.35 436.59,301.63 256.55,272.67" fill="#c5838a" stroke="none" stroke-width="1" />
<polygon points="256.55,270.68 436.59,298.82 436.59,301.63 256.55,273.00" fill="#b98f97" stroke="none" stroke-width="1" />
<polygon points="317.78,205.15 431.96,215.08 436.59,293.35 256.55,266.05" fill="#dbb9c9" stroke="none" stroke-width="1" />
<polygon points="319.31,209.09 324.52,207.82 332.26,209.57 331.41,213.86 327.47,214.33 326.21,216.08 324.38,217.19 322.83,215.45 318.19,213.06" fill="url(#a_pad)" stroke="none" stroke-width="1" />
<polygon points="336.69,210.75 341.89,209.48 349.63,211.22 348.79,215.51 344.85,215.99 343.58,217.74 341.75,218.85 340.21,217.10 335.57,214.72" fill="url(#a_pad)" stroke="none" stroke-width="1" />
<polygon points="355.22,212.90 360.43,211.63 368.16,213.37 367.32,217.66 363.38,218.14 362.12,219.89 360.29,221.00 358.74,219.25 354.10,216.87" fill="url(#a_pad)" stroke="none" stroke-width="1" />
<polygon points="373.10,214.55 378.30,213.28 386.04,215.03 385.19,219.32 381.25,219.79 379.99,221.54 378.16,222.65 376.61,220.91 371.97,218.52" fill="url(#a_pad)" stroke="none" stroke-width="1" />
<polygon points="392.13,216.54 397.33,215.27 405.07,217.01 404.22,221.30 400.28,221.78 399.02,223.53 397.19,224.64 395.64,222.89 391.00,220.51" fill="url(#a_pad)" stroke="none" stroke-width="1" />
<polygon points="411.98,218.52 417.19,217.25 424.92,219.00 424.08,223.29 420.14,223.77 418.88,225.51 417.05,226.63 415.50,224.88 410.86,222.50" fill="url(#a_pad)" stroke="none" stroke-width="1" />
<polygon points="307.95,224.93 311.40,220.56 316.12,218.92 317.69,217.10 319.27,218.92 323.98,221.11 322.88,226.75" fill="url(#a_pad)" stroke="none" stroke-width="1" /><polygon points="307.95,224.93 322.88,226.75 322.88,227.58 307.95,225.76" fill="#b3a73e" stroke="none" stroke-width="1" />
<polygon points="326.48,227.08 329.94,222.71 334.65,221.07 336.23,219.25 337.80,221.07 342.52,223.26 341.41,228.90" fill="url(#a_pad)" stroke="none" stroke-width="1" /><polygon points="326.48,227.08 341.41,228.90 341.41,229.73 326.48,227.91" fill="#b3a73e" stroke="none" stroke-width="1" />
<polygon points="346.34,229.40 349.80,225.03 354.51,223.39 356.08,221.57 357.66,223.39 362.37,225.57 361.27,231.22" fill="url(#a_pad)" stroke="none" stroke-width="1" /><polygon points="346.34,229.40 361.27,231.22 361.27,232.04 346.34,230.22" fill="#b3a73e" stroke="none" stroke-width="1" />
<polygon points="366.20,231.05 369.65,226.68 374.37,225.04 375.94,223.22 377.51,225.04 382.23,227.23 381.13,232.87" fill="url(#a_pad)" stroke="none" stroke-width="1" /><polygon points="366.20,231.05 381.13,232.87 381.13,233.70 366.20,231.88" fill="#b3a73e" stroke="none" stroke-width="1" />
<polygon points="387.38,233.20 390.84,228.83 395.55,227.20 397.12,225.37 398.70,227.20 403.41,229.38 402.31,235.02" fill="url(#a_pad)" stroke="none" stroke-width="1" /><polygon points="387.38,233.20 402.31,235.02 402.31,235.85 387.38,234.03" fill="#b3a73e" stroke="none" stroke-width="1" />
<polygon points="408.89,236.02 412.35,231.65 417.06,230.01 418.64,228.19 420.21,230.01 424.92,232.19 423.82,237.84" fill="url(#a_pad)" stroke="none" stroke-width="1" /><polygon points="408.89,236.02 423.82,237.84 423.82,238.66 408.89,236.84" fill="#b3a73e" stroke="none" stroke-width="1" />
<polygon points="298.89,230.11 305.32,228.31 314.88,230.78 313.84,236.86 308.97,237.53 307.41,240.01 305.15,241.59 303.24,239.11 297.50,235.73" fill="url(#a_pad)" stroke="none" stroke-width="1" />
<polygon points="319.58,232.59 326.01,230.79 335.57,233.26 334.52,239.34 329.66,240.02 328.09,242.49 325.83,244.07 323.92,241.59 318.19,238.22" fill="url(#a_pad)" stroke="none" stroke-width="1" />
<polygon points="341.09,235.07 347.52,233.27 357.08,235.75 356.04,241.82 351.17,242.50 349.61,244.97 347.35,246.55 345.44,244.07 339.70,240.70" fill="url(#a_pad)" stroke="none" stroke-width="1" />
<polygon points="362.60,237.55 369.03,235.75 378.59,238.23 377.55,244.31 372.68,244.98 371.12,247.46 368.86,249.03 366.95,246.56 361.21,243.18" fill="url(#a_pad)" stroke="none" stroke-width="1" />
<polygon points="384.94,240.37 391.37,238.57 400.93,241.04 399.89,247.12 395.02,247.79 393.46,250.27 391.20,251.85 389.29,249.37 383.55,245.99" fill="url(#a_pad)" stroke="none" stroke-width="1" />
<polygon points="408.94,243.02 415.37,241.21 424.92,243.69 423.88,249.77 419.02,250.44 417.45,252.92 415.19,254.49 413.28,252.02 407.55,248.64" fill="url(#a_pad)" stroke="none" stroke-width="1" />
<polygon points="282.96,252.40 287.33,245.65 293.28,243.11 295.27,240.30 297.26,243.11 303.21,246.49 301.82,255.21" fill="url(#a_pad)" stroke="none" stroke-width="1" /><polygon points="282.96,252.40 301.82,255.21 301.82,256.04 282.96,253.23" fill="#b3a73e" stroke="none" stroke-width="1" />
<polygon points="305.46,256.20 309.83,249.45 315.79,246.92 317.78,244.11 319.76,246.92 325.72,250.30 324.33,259.02" fill="url(#a_pad)" stroke="none" stroke-width="1" /><polygon points="305.46,256.20 324.33,259.02 324.33,259.84 305.46,257.03" fill="#b3a73e" stroke="none" stroke-width="1" />
<polygon points="328.47,259.51 332.83,252.76 338.79,250.23 340.78,247.42 342.76,250.23 348.72,253.61 347.33,262.33" fill="url(#a_pad)" stroke="none" stroke-width="1" /><polygon points="328.47,259.51 347.33,262.33 347.33,263.15 328.47,260.34" fill="#b3a73e" stroke="none" stroke-width="1" />
<polygon points="352.96,262.00 357.33,255.24 363.28,252.71 365.27,249.90 367.25,252.71 373.21,256.09 371.82,264.81" fill="url(#a_pad)" stroke="none" stroke-width="1" /><polygon points="352.96,262.00 371.82,264.81 371.82,265.64 352.96,262.82" fill="#b3a73e" stroke="none" stroke-width="1" />
<polygon points="378.28,265.31 382.64,258.55 388.60,256.02 390.59,253.21 392.57,256.02 398.53,259.40 397.14,268.12" fill="url(#a_pad)" stroke="none" stroke-width="1" /><polygon points="378.28,265.31 397.14,268.12 397.14,268.95 378.28,266.13" fill="#b3a73e" stroke="none" stroke-width="1" />
<polygon points="405.08,268.61 409.45,261.86 415.41,259.33 417.40,256.52 419.38,259.33 425.34,262.71 423.95,271.43" fill="url(#a_pad)" stroke="none" stroke-width="1" /><polygon points="405.08,268.61 423.95,271.43 423.95,272.26 405.08,269.44" fill="#b3a73e" stroke="none" stroke-width="1" />
<ellipse cx="297.9" cy="242.6" rx="15" ry="26.5" transform="rotate(33 297.9 242.6)" fill="none" stroke="#f28c1e" stroke-width="2" stroke-dasharray="7 8.5" stroke-linecap="round"/>
<line x1="283.36" y1="227.16" x2="262.34" y2="205.15" stroke="url(#a_arrow)" stroke-width="2.2" />
<polygon points="257.87,200.69 268.96,204.82 264.82,206.15 261.18,211.11" fill="#f58a1f" stroke="none" stroke-width="1" />
<rect x="516" y="78" width="267.6" height="240" fill="url(#tem1)"/>
<rect x="516" y="78" width="60" height="200" fill="url(#tem1b)" mask="url(#temmaskL)"/>
<rect x="516" y="78" width="267.6" height="240" fill="url(#tem1c)" mask="url(#temmaskR)"/>
<rect x="516" y="78" width="267.6" height="240" fill="url(#tem1d)" mask="url(#temmaskC)"/>
<rect x="516" y="108" width="267.6" height="190" fill="url(#temdark)"/>
<rect x="516" y="78" width="267.6" height="240" fill="#000" filter="url(#temnoise)"/>
<rect x="516" y="258" width="267.6" height="60" fill="url(#tem2)" mask="url(#temmask)"/>
<rect x="516" y="78" width="267.6" height="240" fill="#fff" filter="url(#temgrain)" opacity="0.35"/>
<text x="637.50" y="213.50" font-size="16.5" text-anchor="start" font-weight="normal" font-style="normal" fill="#eee" >VO</text><text x="662.00" y="218.50" font-size="9.5" text-anchor="start" font-weight="normal" font-style="normal" fill="#eee" >2</text>
<text x="632.50" y="306.80" font-size="16.5" text-anchor="start" font-weight="normal" font-style="normal" fill="#eee" >Al</text><text x="647.00" y="311.50" font-size="9.5" text-anchor="start" font-weight="normal" font-style="normal" fill="#eee" >2</text><text x="652.30" y="306.80" font-size="16.5" text-anchor="start" font-weight="normal" font-style="normal" fill="#eee" >O</text><text x="665.30" y="311.50" font-size="9.5" text-anchor="start" font-weight="normal" font-style="normal" fill="#eee" >3</text>
<text x="523.50" y="285.80" font-size="16.5" text-anchor="start" font-weight="normal" font-style="normal" fill="#f2f2f2" >2 nm</text>
<line x1="529.00" y1="300.50" x2="553.50" y2="300.50" stroke="#f5f5f5" stroke-width="2" />
<polygon points="94.29,462.97 122.49,489.65 168.22,473.64 168.22,476.69 122.49,494.98 94.29,468.31" fill="#c2c6c8" stroke="none" stroke-width="1" />
<polygon points="94.29,459.93 122.49,486.60 122.49,492.24 94.29,465.56" fill="#3aa9aa" stroke="none" stroke-width="1" />
<polygon points="122.49,486.60 168.22,470.59 168.22,475.47 122.49,492.24" fill="#33b4b4" stroke="none" stroke-width="1" />
<polygon points="94.29,459.93 139.26,446.97 168.22,470.59 122.49,486.60" fill="#45bdbd" stroke="none" stroke-width="1" />
<path d="M113.0,424.9 C111.1,443.2 113.3,458.4 117.2,465.3 C124.0,472.1 140.8,472.1 146.9,463.0 C153.0,450.8 153.0,434.0 151.1,421.1 Z" fill="#050505"/>
<polygon points="91.25,404.29 124.78,422.58 124.78,429.14 91.25,408.41" fill="#3fb3b5" stroke="none" stroke-width="1" />
<polygon points="124.78,422.58 173.55,408.10 173.55,415.72 124.78,429.14" fill="#48c4c6" stroke="none" stroke-width="1" />
<polygon points="91.25,398.20 124.78,420.30 124.78,423.35 91.25,404.75" fill="#b5c3c6" stroke="none" stroke-width="1" />
<polygon points="124.78,420.30 173.55,404.29 173.55,408.87 124.78,423.35" fill="#b9c6ca" stroke="none" stroke-width="1" />
<polygon points="91.25,398.20 136.21,388.59 173.55,404.29 124.78,421.06" fill="url(#d_topplate)" stroke="none" stroke-width="1" />
<text x="77.80" y="521.70" font-size="16.25" text-anchor="start" font-weight="normal" font-style="normal" fill="#111" >Pressure Sensor</text>
<line x1="273.44" y1="462.21" x2="384.24" y2="389.81" stroke="#a1a5ab" stroke-width="3.4" />
<line x1="280.30" y1="472.12" x2="392.32" y2="398.65" stroke="#999da3" stroke-width="3.4" />
<polygon points="247.07,467.55 265.36,456.11 279.54,469.83 262.77,482.03" fill="#b4b4b8" stroke="none" stroke-width="1" />
<polygon points="247.07,467.55 262.77,482.03 262.01,494.98 247.53,480.50" fill="#9a9a9e" stroke="none" stroke-width="1" />
<polygon points="262.77,482.03 279.54,469.83 279.99,482.79 262.01,494.98" fill="#bebec2" stroke="none" stroke-width="1" />
<text x="242.30" y="521.70" font-size="16.25" text-anchor="start" font-weight="normal" font-style="normal" fill="#111" >Light Sensor</text>
<line x1="171.78" y1="587.14" x2="213.11" y2="567.37" stroke="#b4afaf" stroke-width="3" />
<line x1="175.37" y1="592.53" x2="218.20" y2="571.56" stroke="#aaa5a5" stroke-width="3" />
<polygon points="72.94,635.35 170.28,585.94 176.27,593.43 78.93,644.34" fill="#84c9d8" stroke="none" stroke-width="1" />
<line x1="75.94" y1="639.85" x2="173.27" y2="589.53" stroke="#a8dbe6" stroke-width="1" />
<polygon points="57.37,641.34 69.95,633.86 80.43,647.33 66.95,655.42" fill="#c9a3ad" stroke="none" stroke-width="1" />
<text x="64.30" y="708.10" font-size="16.25" text-anchor="start" font-weight="normal" font-style="normal" fill="#111" >Temperature Sensor</text>
<line x1="373.03" y1="579.95" x2="392.80" y2="577.55" stroke="#b9aab0" stroke-width="1.3" />
<line x1="374.23" y1="584.44" x2="395.80" y2="582.35" stroke="#b9aab0" stroke-width="1.3" />
<line x1="374.23" y1="594.32" x2="393.40" y2="591.93" stroke="#b9aab0" stroke-width="1.3" />
<line x1="375.43" y1="598.52" x2="395.80" y2="596.42" stroke="#b9aab0" stroke-width="1.3" />
<polygon points="231.08,597.32 371.84,577.85 375.43,586.54 236.17,606.90" fill="#7ccaa0" stroke="none" stroke-width="1" />
<path d="M252.6,656.3 C273.6,630.9 309.5,599.4 370.9,591.9 L375.4,600.3 C314.0,608.4 279.6,638.3 258.0,664.4 Z" fill="url(#d_green)"/>
<text x="237.40" y="708.10" font-size="16.25" text-anchor="start" font-weight="normal" font-style="normal" fill="#111" >Curvature Sensor</text>
<polyline points="451.80,441.50 451.80,417.00 551.50,417.00" fill="none" stroke="#111" stroke-width="2.3" stroke-linejoin="miter"/>
<polyline points="451.80,508.50 451.80,528.40 507.30,528.40" fill="none" stroke="#111" stroke-width="2.3" stroke-linejoin="miter"/>
<polyline points="507.30,417.00 507.30,450.00" fill="none" stroke="#111" stroke-width="2.3" stroke-linejoin="miter"/>
<polyline points="507.30,500.00 507.30,557.50" fill="none" stroke="#111" stroke-width="2.3" stroke-linejoin="miter"/>
<polyline points="507.30,607.50 507.30,618.50 663.90,618.50 663.90,550.80" fill="none" stroke="#111" stroke-width="2.3" stroke-linejoin="miter"/>
<polyline points="618.50,417.00 663.90,417.00 663.90,483.80" fill="none" stroke="#111" stroke-width="2.3" stroke-linejoin="miter"/>
<polyline points="663.90,453.70 709.70,453.70 709.70,513.30" fill="none" stroke="#111" stroke-width="2.3" stroke-linejoin="miter"/>
<polyline points="709.70,533.30 709.70,581.70 663.90,581.70" fill="none" stroke="#111" stroke-width="2.3" stroke-linejoin="miter"/>
<line x1="697.20" y1="513.80" x2="721.20" y2="513.80" stroke="#111" stroke-width="2.3" />
<line x1="697.20" y1="533.30" x2="721.20" y2="533.30" stroke="#111" stroke-width="2.3" />
<polyline points="589.30,618.50 589.30,672.40" fill="none" stroke="#111" stroke-width="2.3" stroke-linejoin="miter"/>
<line x1="571.10" y1="672.40" x2="606.90" y2="672.40" stroke="#111" stroke-width="2.3" />
<line x1="576.20" y1="679.00" x2="601.40" y2="679.00" stroke="#111" stroke-width="2.3" />
<line x1="583.00" y1="685.10" x2="594.30" y2="685.10" stroke="#111" stroke-width="2.3" />
<rect x="440.4" y="442.1" width="23.3" height="65.8" fill="url(#d_rs)"/><rect x="440.4" y="442.1" width="23.3" height="65.8" fill="url(#d_rs2)" stroke="#111" stroke-width="1.9"/>
<rect x="552.1" y="405.3" width="65.6" height="23.9" fill="url(#d_rc)"/><rect x="552.1" y="405.3" width="65.6" height="23.9" fill="url(#d_rc2)" stroke="#111" stroke-width="1.9"/>
<rect x="652.2" y="483.9" width="23.6" height="67.1" fill="url(#d_vo)"/><rect x="652.2" y="483.9" width="23.6" height="67.1" fill="url(#d_vo2)" stroke="#111" stroke-width="1.9"/>
<polyline points="655.80,536.50 667.50,526.00 667.50,502.10" fill="none" stroke="#111" stroke-width="2.4" stroke-linejoin="miter"/>
<polyline points="672.40,496.40 660.90,507.40 661.00,531.60" fill="none" stroke="#111" stroke-width="2.4" stroke-linejoin="miter"/>
<circle cx="508" cy="475" r="25.6" fill="url(#d_sens)"/>
<text x="508.00" y="485.50" font-size="29" text-anchor="middle" font-weight="normal" font-style="normal" fill="#111" >S</text>
<text x="540.40" y="479.30" font-size="16.8" text-anchor="start" font-weight="normal" font-style="normal" fill="#111" >Sensor</text>
<circle cx="507.3" cy="582.4" r="25.6" fill="url(#d_vin)"/>
<polyline points="492.20,589.30 498.60,589.30 498.60,572.40 515.20,572.40 515.20,589.30 522.70,589.30" fill="none" stroke="#e02338" stroke-width="2" />
<text x="374.00" y="474.50" font-size="16.8" text-anchor="start" font-weight="normal" font-style="italic" fill="#111" >R</text><text x="385.80" y="483.70" font-size="15" text-anchor="start" font-weight="normal" font-style="normal" fill="#111" >scaling</text>
<text x="579.00" y="390.00" font-size="16.8" text-anchor="start" font-weight="normal" font-style="italic" fill="#111" >R</text><text x="591.30" y="397.80" font-size="15" text-anchor="start" font-weight="normal" font-style="normal" fill="#111" >c</text>
<text x="677.00" y="442.00" font-size="16.8" text-anchor="start" font-weight="normal" font-style="italic" fill="#111" >V</text><text x="687.30" y="450.00" font-size="15" text-anchor="start" font-weight="normal" font-style="normal" fill="#111" >out</text>
<text x="594.00" y="518.20" font-size="16.8" text-anchor="start" font-weight="normal" font-style="normal" fill="#111" >VO</text><text x="622.00" y="524.80" font-size="10.5" text-anchor="start" font-weight="normal" font-style="normal" fill="#111" >2</text>
<text x="732.30" y="532.50" font-size="16.8" text-anchor="start" font-weight="normal" font-style="italic" fill="#111" >C</text><text x="746.40" y="541.00" font-size="15" text-anchor="start" font-weight="normal" font-style="normal" fill="#111" >parallel</text>
<text x="545.70" y="588.60" font-size="16.8" text-anchor="start" font-weight="normal" font-style="italic" fill="#111" >V</text><text x="556.30" y="596.20" font-size="15" text-anchor="start" font-weight="normal" font-style="normal" fill="#111" >in</text>
<text x="589.70" y="709.00" font-size="16.8" text-anchor="middle" font-weight="normal" font-style="normal" fill="#111" >Artificial Spiking Sensory Neuron</text>
<text x="733.00" y="382.30" font-size="16.8" text-anchor="middle" font-weight="normal" font-style="normal" fill="#111" >Afferent Spikes</text>
<line x1="681.00" y1="408.40" x2="771.00" y2="408.40" stroke="#e61e25" stroke-width="2.7" />
<polygon points="780.80,408.60 768.50,403.20 771.50,408.60 768.50,414.00" fill="#e61e25" stroke="none" stroke-width="1" />
<path d="M692,404.8 C695.0,396.0 700.0,390.5 705.2,390.3 L707.6,404.8 C710.6,396.0 715.6,390.5 720.8,390.3 L723.2,404.8 C726.2,396.0 731.2,390.5 736.4,390.3 L738.8,404.8 C741.8,396.0 746.8,390.5 752.0,390.3 L754.4,404.8" fill="none" stroke="#e61e25" stroke-width="2.4" stroke-linejoin="miter"/>
<path d="M931.3,461.3L1019.9,412.5M931.3,461.3L1019.9,445.3M931.3,461.3L1019.9,478.7M931.3,461.3L1019.9,512.0M931.3,461.3L1019.9,545.3M931.3,461.3L1019.9,617.3M931.3,494.7L1019.9,412.5M931.3,494.7L1019.9,445.3M931.3,494.7L1019.9,478.7M931.3,494.7L1019.9,512.0M931.3,494.7L1019.9,545.3M931.3,494.7L1019.9,617.3M931.3,528.0L1019.9,412.5M931.3,528.0L1019.9,445.3M931.3,528.0L1019.9,478.7M931.3,528.0L1019.9,512.0M931.3,528.0L1019.9,545.3M931.3,528.0L1019.9,617.3M931.3,604.0L1019.9,412.5M931.3,604.0L1019.9,445.3M931.3,604.0L1019.9,478.7M931.3,604.0L1019.9,512.0M931.3,604.0L1019.9,545.3M931.3,604.0L1019.9,617.3M1035.9,412.5L1122.0,472.7M1035.9,412.5L1122.0,506.6M1035.9,412.5L1122.0,582.6M1035.9,445.3L1122.0,472.7M1035.9,445.3L1122.0,506.6M1035.9,445.3L1122.0,582.6M1035.9,478.7L1122.0,472.7M1035.9,478.7L1122.0,506.6M1035.9,478.7L1122.0,582.6M1035.9,512.0L1122.0,472.7M1035.9,512.0L1122.0,506.6M1035.9,512.0L1122.0,582.6M1035.9,545.3L1122.0,472.7M1035.9,545.3L1122.0,506.6M1035.9,545.3L1122.0,582.6M1035.9,617.3L1122.0,472.7M1035.9,617.3L1122.0,506.6M1035.9,617.3L1122.0,582.6" fill="none" stroke="#c8c8c8" stroke-width="0.8"/>
<circle cx="923.3" cy="461.3" r="8.4" fill="url(#n_g)" stroke="#2a6e4e" stroke-width="0.8"/>
<circle cx="923.3" cy="494.7" r="8.4" fill="url(#n_g)" stroke="#2a6e4e" stroke-width="0.8"/>
<circle cx="923.3" cy="528" r="8.4" fill="url(#n_g)" stroke="#2a6e4e" stroke-width="0.8"/>
<circle cx="923.3" cy="604" r="8.4" fill="url(#n_g)" stroke="#2a6e4e" stroke-width="0.8"/>
<circle cx="923.3" cy="552.8" r="4.3" fill="#378764"/>
<circle cx="923.3" cy="567.2" r="4.3" fill="#378764"/>
<circle cx="923.3" cy="581.9" r="4.3" fill="#378764"/>
<circle cx="1027.9" cy="412.5" r="8.7" fill="url(#n_b)" stroke="#4ab0e6" stroke-width="0.6"/>
<circle cx="1027.9" cy="445.3" r="8.7" fill="url(#n_b)" stroke="#4ab0e6" stroke-width="0.6"/>
<circle cx="1027.9" cy="478.7" r="8.7" fill="url(#n_b)" stroke="#4ab0e6" stroke-width="0.6"/>
<circle cx="1027.9" cy="512" r="8.7" fill="url(#n_b)" stroke="#4ab0e6" stroke-width="0.6"/>
<circle cx="1027.9" cy="545.3" r="8.7" fill="url(#n_b)" stroke="#4ab0e6" stroke-width="0.6"/>
<circle cx="1027.9" cy="617.3" r="8.7" fill="url(#n_b)" stroke="#4ab0e6" stroke-width="0.6"/>
<circle cx="1027.9" cy="566.1" r="4.3" fill="#50b9eb"/>
<circle cx="1027.9" cy="580.5" r="4.3" fill="#50b9eb"/>
<circle cx="1027.9" cy="594.9" r="4.3" fill="#50b9eb"/>
<circle cx="1130" cy="472.7" r="8.7" fill="url(#n_o)" stroke="#f0a048" stroke-width="0.6"/>
<circle cx="1130" cy="506.6" r="8.7" fill="url(#n_o)" stroke="#f0a048" stroke-width="0.6"/>
<circle cx="1130" cy="582.6" r="8.7" fill="url(#n_o)" stroke="#f0a048" stroke-width="0.6"/>
<circle cx="1130" cy="531.4" r="4.3" fill="#f0a550"/>
<circle cx="1130" cy="546" r="4.3" fill="#f0a550"/>
<circle cx="1130" cy="560.4" r="4.3" fill="#f0a550"/>
<line x1="813.50" y1="459.20" x2="899.00" y2="459.20" stroke="#46aad7" stroke-width="1.3" /><polygon points="902.00,459.20 896.50,456.60 897.70,459.20 896.50,461.80" fill="#46aad7" stroke="none" stroke-width="1" /><line x1="822.50" y1="459.20" x2="822.50" y2="437.30" stroke="#46aad7" stroke-width="1.3" /><line x1="828.70" y1="459.20" x2="828.70" y2="437.30" stroke="#46aad7" stroke-width="1.3" /><line x1="834.30" y1="459.20" x2="834.30" y2="437.30" stroke="#46aad7" stroke-width="1.3" /><line x1="871.30" y1="459.20" x2="871.30" y2="437.30" stroke="#46aad7" stroke-width="1.3" /><line x1="877.50" y1="459.20" x2="877.50" y2="437.30" stroke="#46aad7" stroke-width="1.3" />
<line x1="813.50" y1="494.70" x2="899.00" y2="494.70" stroke="#46aad7" stroke-width="1.3" /><polygon points="902.00,494.70 896.50,492.10 897.70,494.70 896.50,497.30" fill="#46aad7" stroke="none" stroke-width="1" /><line x1="822.50" y1="494.70" x2="822.50" y2="472.80" stroke="#46aad7" stroke-width="1.3" /><line x1="828.70" y1="494.70" x2="828.70" y2="472.80" stroke="#46aad7" stroke-width="1.3" /><line x1="844.10" y1="494.70" x2="844.10" y2="472.80" stroke="#46aad7" stroke-width="1.3" /><line x1="848.10" y1="494.70" x2="848.10" y2="472.80" stroke="#46aad7" stroke-width="1.3" /><line x1="874.00" y1="494.70" x2="874.00" y2="472.80" stroke="#46aad7" stroke-width="1.3" />
<line x1="813.50" y1="528.00" x2="899.00" y2="528.00" stroke="#46aad7" stroke-width="1.3" /><polygon points="902.00,528.00 896.50,525.40 897.70,528.00 896.50,530.60" fill="#46aad7" stroke="none" stroke-width="1" /><line x1="822.50" y1="528.00" x2="822.50" y2="506.10" stroke="#46aad7" stroke-width="1.3" /><line x1="828.70" y1="528.00" x2="828.70" y2="506.10" stroke="#46aad7" stroke-width="1.3" /><line x1="870.00" y1="528.00" x2="870.00" y2="506.10" stroke="#46aad7" stroke-width="1.3" /><line x1="885.20" y1="528.00" x2="885.20" y2="506.10" stroke="#46aad7" stroke-width="1.3" />
<line x1="813.50" y1="606.70" x2="899.00" y2="606.70" stroke="#46aad7" stroke-width="1.3" /><polygon points="902.00,606.70 896.50,604.10 897.70,606.70 896.50,609.30" fill="#46aad7" stroke="none" stroke-width="1" /><line x1="822.50" y1="606.70" x2="822.50" y2="584.30" stroke="#46aad7" stroke-width="1.3" /><line x1="828.70" y1="606.70" x2="828.70" y2="584.30" stroke="#46aad7" stroke-width="1.3" /><line x1="834.30" y1="606.70" x2="834.30" y2="584.30" stroke="#46aad7" stroke-width="1.3" /><line x1="839.30" y1="606.70" x2="839.30" y2="584.30" stroke="#46aad7" stroke-width="1.3" /><line x1="870.00" y1="606.70" x2="870.00" y2="584.30" stroke="#46aad7" stroke-width="1.3" /><line x1="885.20" y1="606.70" x2="885.20" y2="584.30" stroke="#46aad7" stroke-width="1.3" />
<line x1="1150.00" y1="472.40" x2="1236.40" y2="472.40" stroke="#46aad7" stroke-width="1.3" /><polygon points="1239.40,472.40 1233.90,469.80 1235.10,472.40 1233.90,475.00" fill="#46aad7" stroke="none" stroke-width="1" /><line x1="1187.40" y1="472.40" x2="1187.40" y2="450.00" stroke="#46aad7" stroke-width="1.3" /><line x1="1208.70" y1="472.40" x2="1208.70" y2="450.00" stroke="#46aad7" stroke-width="1.3" /><line x1="1214.90" y1="472.40" x2="1214.90" y2="450.00" stroke="#46aad7" stroke-width="1.3" />
<line x1="1150.00" y1="509.20" x2="1236.40" y2="509.20" stroke="#46aad7" stroke-width="1.3" /><polygon points="1239.40,509.20 1233.90,506.60 1235.10,509.20 1233.90,511.80" fill="#46aad7" stroke="none" stroke-width="1" /><line x1="1180.70" y1="509.20" x2="1180.70" y2="486.80" stroke="#46aad7" stroke-width="1.3" /><line x1="1187.40" y1="509.20" x2="1187.40" y2="486.80" stroke="#46aad7" stroke-width="1.3" /><line x1="1202.60" y1="509.20" x2="1202.60" y2="486.80" stroke="#46aad7" stroke-width="1.3" /><line x1="1208.70" y1="509.20" x2="1208.70" y2="486.80" stroke="#46aad7" stroke-width="1.3" /><line x1="1214.90" y1="509.20" x2="1214.90" y2="486.80" stroke="#46aad7" stroke-width="1.3" />
<line x1="1150.00" y1="582.60" x2="1236.40" y2="582.60" stroke="#46aad7" stroke-width="1.3" /><polygon points="1239.40,582.60 1233.90,580.00 1235.10,582.60 1233.90,585.20" fill="#46aad7" stroke="none" stroke-width="1" /><line x1="1180.70" y1="582.60" x2="1180.70" y2="560.20" stroke="#46aad7" stroke-width="1.3" /><line x1="1187.40" y1="582.60" x2="1187.40" y2="560.20" stroke="#46aad7" stroke-width="1.3" />
<text x="859.80" y="414.00" font-size="16.8" text-anchor="middle" font-weight="normal" font-style="normal" fill="#111" >Input Layer</text>
<text x="1026.50" y="390.00" font-size="16.8" text-anchor="middle" font-weight="normal" font-style="normal" fill="#111" >Hidden Layer</text>
<text x="1190.20" y="432.00" font-size="16.8" text-anchor="middle" font-weight="normal" font-style="normal" fill="#111" >Output Layer</text>
<text x="852.20" y="640.80" font-size="16.8" text-anchor="middle" font-weight="normal" font-style="normal" fill="#111" >Neuron Spikes</text>
<text x="1196.80" y="632.80" font-size="16.8" text-anchor="middle" font-weight="normal" font-style="normal" fill="#111" >Neuron Spikes</text>
<text x="1015.00" y="681.20" font-size="16.8" text-anchor="middle" font-weight="normal" font-style="normal" fill="#111" >Spiking Neuron Networks</text>
<g clip-path="url(#gl_clip)">
<rect x="744" y="771" width="179.3" height="218" fill="url(#gl_bg)"/>
<path d="M782.4,991.1 C775.1,970.3 770.6,945.4 768.5,912.2 C767.7,897.6 767.3,889.3 764.8,880.0 C763.7,866.5 773.1,856.1 788.4,858.6 C786.6,843.7 800.1,833.3 815.6,839.9 L814.6,812.5 L813.3,784.5 C814.6,772.0 836.4,770.0 837.4,785.5 L839.5,822.9 L846.1,851.5 L852.0,847.4 L865.4,813.6 C862.3,795.9 876.9,788.6 886.8,795.5 C890.4,802.1 888.9,814.6 886.8,820.8 L881.0,842.6 L871.1,879.4 C882.1,895.6 889.3,914.2 889.7,931.9 C889.3,951.6 876.9,970.3 866.1,991.1 Z" fill="url(#gl_palm)"/>
<path d="M782.4,991.1 C775.1,970.3 770.6,945.4 768.5,912.2 C767.7,897.6 767.3,889.3 764.8,880.0 C763.7,866.5 773.1,856.1 788.4,858.6 C786.6,843.7 800.1,833.3 815.6,839.9 L814.6,812.5 L813.3,784.5 C814.6,772.0 836.4,770.0 837.4,785.5 L839.5,822.9 L846.1,851.5 L852.0,847.4 L865.4,813.6 C862.3,795.9 876.9,788.6 886.8,795.5 C890.4,802.1 888.9,814.6 886.8,820.8 L881.0,842.6 L871.1,879.4 C882.1,895.6 889.3,914.2 889.7,931.9 C889.3,951.6 876.9,970.3 866.1,991.1 Z" fill="url(#gl_knit)"/>
<path d="M782.4,991.1 C775.1,970.3 770.6,945.4 768.5,912.2 C767.7,897.6 767.3,889.3 764.8,880.0 C763.7,866.5 773.1,856.1 788.4,858.6 C786.6,843.7 800.1,833.3 815.6,839.9 L814.6,812.5 L813.3,784.5 C814.6,772.0 836.4,770.0 837.4,785.5 L839.5,822.9 L846.1,851.5 L852.0,847.4 L865.4,813.6 C862.3,795.9 876.9,788.6 886.8,795.5 C890.4,802.1 888.9,814.6 886.8,820.8 L881.0,842.6 L871.1,879.4 C882.1,895.6 889.3,914.2 889.7,931.9 C889.3,951.6 876.9,970.3 866.1,991.1 Z" fill="url(#gl_shade)"/>
<path d="M852.0,903.9 C860.3,920.5 876.9,926.7 889.7,930.9 C889.3,914.2 882.1,895.6 871.1,879.4 L860.3,874.8 Z" fill="#d9d5cc"/>
<path d="M852.0,903.9 C860.3,920.5 876.9,926.7 889.7,930.9 C889.3,914.2 882.1,895.6 871.1,879.4 L860.3,874.8 Z" fill="url(#gl_knit)"/>
<path d="M859.4,873.1 C850.9,883.1 846.8,895.6 852.4,903.9 C862.3,903.9 872.7,897.6 876.9,889.3 C872.7,883.1 866.5,875.8 859.4,873.1 Z" fill="#f1efeb"/>
<path d="M852.0,904.3 C859.2,920.5 874.8,926.7 889.3,930.4" fill="none" stroke="#a29b8d" stroke-width="2" opacity="0.75"/>
<ellipse cx="806.3" cy="853.0" rx="18.5" ry="17" fill="url(#gl_kn)" transform="rotate(-25 806.3 853.0)"/>
<ellipse cx="783.9" cy="871.1" rx="19.5" ry="13.5" fill="url(#gl_kn)" transform="rotate(-10 783.9 871.1)"/>
<path d="M779.3,857.2 L799.0,865.5" stroke="#8c8578" stroke-width="1.3" opacity="0.8"/>
<path d="M810.0,837.0 C816.7,840.5 820.4,845.7 819.8,852.0" stroke="#a78f7c" stroke-width="1.8" fill="none"/>
<ellipse cx="825.4" cy="785.5" rx="10.5" ry="13" fill="#f1efea" opacity="0.85"/>
<ellipse cx="876.9" cy="805.3" rx="10.5" ry="12" fill="#f1efea" opacity="0.85" transform="rotate(20 876.9 805.3)"/>
<path d="M757.5,882.7 L764.8,880.6" stroke="#e0ddd5" stroke-width="0.8"/>
</g>
<text x="754.00" y="795.80" font-size="16.5" text-anchor="start" font-weight="normal" font-style="normal" fill="#f6f6f6" >Two</text>
</svg>
</body></html>
